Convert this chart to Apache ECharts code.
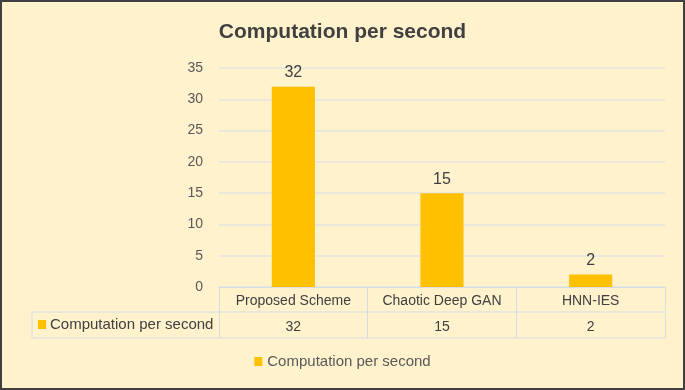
<!DOCTYPE html>
<html>
<head>
<meta charset="utf-8">
<script src="https://cdn.jsdelivr.net/npm/echarts@6/dist/echarts.min.js"></script>
<style>
  html, body { margin: 0; padding: 0; background: #fff; }
  #chart { width: 685px; height: 390px; }
</style>
</head>
<body>
<div id="chart"></div>
<script>
// data
const categories = ['Proposed Scheme', 'Chaotic Deep GAN', 'HNN-IES']
const seriesName = 'Computation per second'
const values = [32, 15, 2]
const yTicks = [0, 5, 10, 15, 20, 25, 30, 35]

const barColor = '#FFC000'
const lineColor = '#d6dce4'
const textColor = '#404040'
const font = 'Liberation Sans, Arial, sans-serif'

const chart = echarts.init(document.getElementById('chart'))

const option = {
  backgroundColor: '#FFF2CC',
  animation: false,
  title: {
    text: 'Computation per second',
    left: 'center',
    top: 17,
    textStyle: { fontFamily: font, fontSize: 21, fontWeight: 'bold', color: textColor }
  },
  legend: {
    bottom: 16,
    left: 'center',
    icon: 'rect',
    itemWidth: 8,
    itemHeight: 9,
    itemGap: 6,
    data: [seriesName],
    textStyle: { fontFamily: font, fontSize: 15, color: '#595959' }
  },
  grid: { left: 219, right: 20, top: 68, bottom: 103, containLabel: false },
  xAxis: [
    {
      type: 'category',
      data: categories,
      axisLine: { lineStyle: { color: lineColor, width: 1 } },
      axisTick: { show: true, interval: 0, length: 51, alignWithLabel: false, lineStyle: { color: lineColor } },
      axisLabel: { interval: 0, margin: 7, fontFamily: font, fontSize: 14, color: textColor }
    },
    {
      // second row of the data table: the values
      type: 'category',
      position: 'bottom',
      offset: 26,
      data: values.map(String),
      axisLine: { show: false },
      axisTick: { show: false },
      axisLabel: { interval: 0, margin: 7, fontFamily: font, fontSize: 14, color: textColor }
    }
  ],
  yAxis: {
    type: 'value',
    min: yTicks[0],
    max: yTicks[yTicks.length - 1],
    interval: 5,
    axisLine: { show: false },
    axisTick: { show: false },
    axisLabel: { margin: 16, fontFamily: font, fontSize: 14, color: '#595959' },
    splitLine: { lineStyle: { color: '#e3e3e3', width: 1.5 } }
  },
  series: [
    {
      name: seriesName,
      type: 'bar',
      data: values,
      barWidth: '29%',
      itemStyle: { color: barColor },
      label: {
        show: true,
        position: 'top',
        distance: 6,
        fontFamily: font,
        fontSize: 16,
        color: textColor
      }
    }
  ],
  graphic: [
    // outer border
    { type: 'rect', shape: { x: 1, y: 1, width: 683, height: 388 }, style: { fill: 'none', stroke: '#404040', lineWidth: 2 } },
    // table row lines
    { type: 'line', shape: { x1: 32, y1: 312, x2: 665, y2: 312 }, style: { stroke: lineColor, lineWidth: 1 } },
    { type: 'line', shape: { x1: 32, y1: 338, x2: 665, y2: 338 }, style: { stroke: lineColor, lineWidth: 1 } },
    { type: 'line', shape: { x1: 32, y1: 312, x2: 32, y2: 338 }, style: { stroke: lineColor, lineWidth: 1 } },
    // row header with key
    { type: 'rect', shape: { x: 38, y: 320, width: 8, height: 9 }, style: { fill: barColor } },
    {
      type: 'text', left: 50, top: 317,
      style: { text: seriesName, fontFamily: font, fontSize: 15, fill: textColor }
    }
  ]
}

chart.setOption(option)
</script>
</body>
</html>
